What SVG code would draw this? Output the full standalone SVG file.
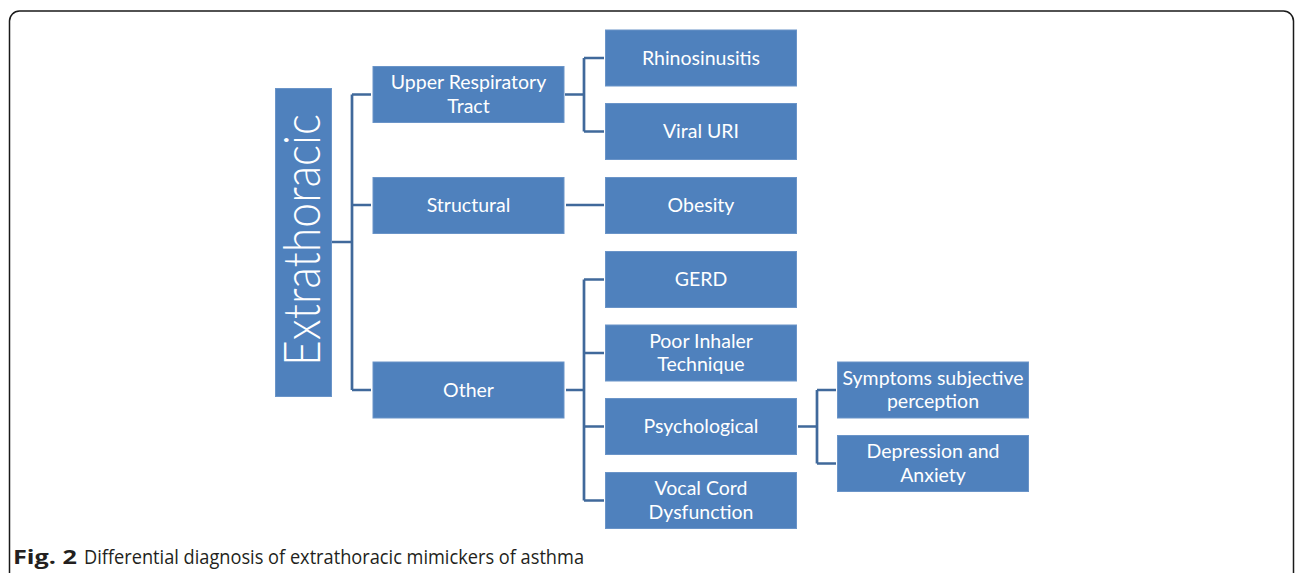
<svg xmlns="http://www.w3.org/2000/svg" width="1295" height="573" viewBox="0 0 1295 573">
<style>
.box{fill:#4f81bd;stroke:#6a94c8;stroke-width:1}
.t{font-family:Lato,"Open Sans",sans-serif;font-size:19.5px;fill:#ffffff;text-anchor:middle}
.c{fill:none;stroke:#40699b;stroke-width:2.7}
.cap{font-family:"Open Sans","Liberation Sans",sans-serif;font-size:20px;fill:#231f20}
</style>
<rect x="0" y="0" width="1295" height="573" fill="#ffffff"/>
<path d="M9.5 590 V21 A10 10 0 0 1 19.5 11 H1283.5 A10 10 0 0 1 1293.5 21 V590" fill="none" stroke="#1a1a1a" stroke-width="1.5"/>
<g id="connectors">
<path class="c" d="M331 242 H352 M352 94.5 V390 M352 94.5 H371 M352 205 H371 M352 390 H371"/>
<path class="c" d="M565 94.5 H584 M584 58 V131.5 M584 58 H604 M584 131.5 H604"/>
<path class="c" d="M566 205 H604"/>
<path class="c" d="M566 390 H584 M584 279.5 V500.5 M584 279.5 H604 M584 353 H604 M584 426.5 H604 M584 500.5 H604"/>
<path class="c" d="M798 426.5 H817 M817 390 V463.5 M817 390 H836 M817 463.5 H836"/>
</g>
<g id="n-extrathoracic"><rect class="box" x="275.5" y="88.5" width="56" height="308"/>
<text x="0" y="0" transform="translate(320 240) rotate(-90)" style="font-family:Lato,'Open Sans',sans-serif;font-weight:300;font-size:51px;fill:#fff;text-anchor:middle" textLength="252" lengthAdjust="spacingAndGlyphs">Extrathoracic</text></g>
<g id="n-upper"><rect class="box" x="373" y="66.5" width="191" height="56"/><text class="t" x="468.5" y="89">Upper Respiratory</text><text class="t" x="468.5" y="112.5">Tract</text></g>
<g id="n-structural"><rect class="box" x="373" y="177.5" width="191" height="56"/><text class="t" x="468.5" y="212">Structural</text></g>
<g id="n-other"><rect class="box" x="373" y="362" width="191" height="56"/><text class="t" x="468.5" y="396.5">Other</text></g>
<g id="n-rhino"><rect class="box" x="605.5" y="30" width="191" height="56"/><text class="t" x="701" y="64.5">Rhinosinusitis</text></g>
<g id="n-viral"><rect class="box" x="605.5" y="103.5" width="191" height="56"/><text class="t" x="701" y="138">Viral URI</text></g>
<g id="n-obesity"><rect class="box" x="605.5" y="177.5" width="191" height="56"/><text class="t" x="701" y="212">Obesity</text></g>
<g id="n-gerd"><rect class="box" x="605.5" y="251.5" width="191" height="56"/><text class="t" x="701" y="286">GERD</text></g>
<g id="n-inhaler"><rect class="box" x="605.5" y="325" width="191" height="56"/><text class="t" x="701" y="347.5">Poor Inhaler</text><text class="t" x="701" y="371">Technique</text></g>
<g id="n-psych"><rect class="box" x="605.5" y="398.5" width="191" height="56"/><text class="t" x="701" y="433">Psychological</text></g>
<g id="n-vocal"><rect class="box" x="605.5" y="472.5" width="191" height="56"/><text class="t" x="701" y="495">Vocal Cord</text><text class="t" x="701" y="518.5">Dysfunction</text></g>
<g id="n-symptoms"><rect class="box" x="837.5" y="362" width="191" height="56"/><text class="t" x="933" y="384.5">Symptoms subjective</text><text class="t" x="933" y="408">perception</text></g>
<g id="n-depression"><rect class="box" x="837.5" y="435.5" width="191" height="56"/><text class="t" x="933" y="458">Depression and</text><text class="t" x="933" y="481.5">Anxiety</text></g>
<text class="cap" x="13" y="564" font-weight="bold" font-size="21" textLength="64" lengthAdjust="spacingAndGlyphs">Fig. 2</text>
<text class="cap" x="84" y="564" textLength="500" lengthAdjust="spacingAndGlyphs">Differential diagnosis of extrathoracic mimickers of asthma</text>
</svg>
